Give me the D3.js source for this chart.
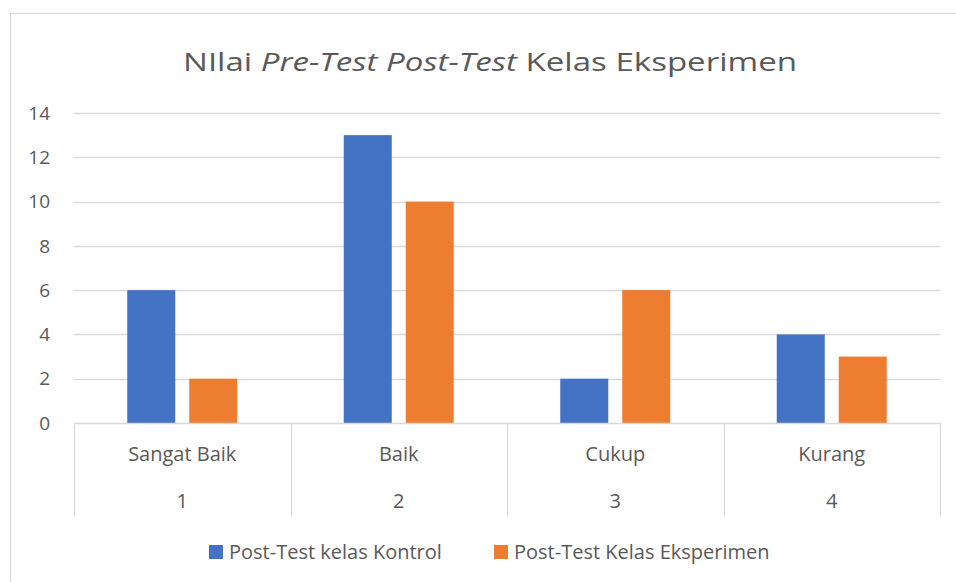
<!DOCTYPE html>
<html lang="id">
<head>
<meta charset="UTF-8">
<title>NIlai Pre-Test Post-Test Kelas Eksperimen</title>
<script src="https://d3js.org/d3.v7.min.js"></script>
<style>
  body { margin: 0; background: #fff; }
  text { font-family: "Open Sans", sans-serif; fill: #595959; }
</style>
</head>
<body>
<div id="chart"></div>
<script>
// data
const categories = ["Sangat Baik", "Baik", "Cukup", "Kurang"];
const groupNumbers = ["1", "2", "3", "4"];
const seriesNames = ["Post-Test kelas Kontrol", "Post-Test Kelas Eksperimen"];
const kontrol = [6, 13, 2, 4];
const eksperimen = [2, 10, 6, 3];
const yTicks = [0, 2, 4, 6, 8, 10, 12, 14];
const colors = ["#4472C4", "#ED7D31"];

const W = 956, H = 582;
const margin = {top: 113, right: 16, bottom: 159, left: 74};
const width = W - margin.left - margin.right;
const height = H - margin.top - margin.bottom;
const labelSize = "20px";

const svg = d3.select("#chart").append("svg")
    .attr("width", W).attr("height", H);

// outer frame
svg.append("rect")
    .attr("x", 10.5).attr("y", 13.5)
    .attr("width", W).attr("height", H)
    .attr("fill", "none").attr("stroke", "#d9d9d9").attr("stroke-width", 1.3);

// title (mixed italic)
const title = svg.append("text")
    .attr("x", 490).attr("y", 71)
    .attr("text-anchor", "middle")
    .style("font-size", "26px");
title.append("tspan").text("NIlai ");
title.append("tspan").style("font-style", "italic").text("Pre-Test Post-Test");
title.append("tspan").text(" Kelas Eksperimen");
title.attr("textLength", 614).attr("lengthAdjust", "spacingAndGlyphs");

const g = svg.append("g").attr("transform", `translate(${margin.left},${margin.top})`);

const x0 = d3.scaleBand().domain(categories).range([0, width]).padding(0);
const y = d3.scaleLinear().domain([0, 14]).range([height, 0]);

// gridlines
g.append("g").selectAll("line")
    .data(yTicks.filter(d => d > 0))
    .join("line")
    .attr("x1", 0).attr("x2", width)
    .attr("y1", d => Math.round(y(d)) + 0.5).attr("y2", d => Math.round(y(d)) + 0.5)
    .attr("stroke", "#d9d9d9").attr("stroke-width", 1.3);

// y axis labels
g.append("g").selectAll("text")
    .data(yTicks)
    .join("text")
    .attr("x", -24).attr("y", d => y(d))
    .attr("dy", "0.35em")
    .attr("text-anchor", "end")
    .style("font-size", "19px")
    .text(d => d);

// bars
const barW = 48, barGap = 14;
const barOffset = (x0.bandwidth() - (2 * barW + barGap)) / 2;
const series = [kontrol, eksperimen];
series.forEach((vals, si) => {
  g.append("g").selectAll("rect")
    .data(vals)
    .join("rect")
    .attr("x", (d, i) => x0(categories[i]) + barOffset + si * (barW + barGap))
    .attr("y", d => y(d))
    .attr("width", barW)
    .attr("height", d => height - y(d))
    .attr("fill", colors[si]);
});

// category axis (two levels)
const axisBottom = 93;
g.append("line")
    .attr("x1", 0).attr("x2", width)
    .attr("y1", height + 0.5).attr("y2", height + 0.5)
    .attr("stroke", "#d9d9d9").attr("stroke-width", 1.3);
const seps = categories.map(c => x0(c)).concat([width]);
g.append("g").selectAll("line")
    .data(seps)
    .join("line")
    .attr("x1", d => Math.round(d) + 0.5).attr("x2", d => Math.round(d) + 0.5)
    .attr("y1", height).attr("y2", height + axisBottom)
    .attr("stroke", "#d9d9d9").attr("stroke-width", 1.3);

g.append("g").selectAll("text")
    .data(categories)
    .join("text")
    .attr("x", d => x0(d) + x0.bandwidth() / 2)
    .attr("y", height + 38)
    .attr("text-anchor", "middle")
    .style("font-size", labelSize)
    .text(d => d);

g.append("g").selectAll("text")
    .data(groupNumbers)
    .join("text")
    .attr("x", (d, i) => x0(categories[i]) + x0.bandwidth() / 2)
    .attr("y", height + 85)
    .attr("text-anchor", "middle")
    .style("font-size", labelSize)
    .text(d => d);

// legend
const legendX = [209, 494];
const legend = svg.append("g").selectAll("g")
    .data(seriesNames)
    .join("g")
    .attr("transform", (d, i) => `translate(${legendX[i]},545)`);
legend.append("rect")
    .attr("width", 14).attr("height", 14)
    .attr("fill", (d, i) => colors[i]);
legend.append("text")
    .attr("x", 20).attr("y", 14)
    .style("font-size", labelSize)
    .text(d => d);
</script>
</body>
</html>
